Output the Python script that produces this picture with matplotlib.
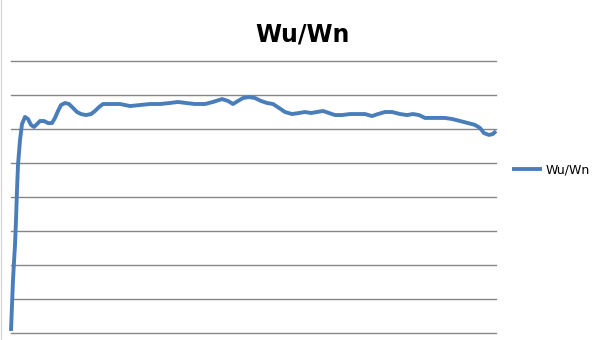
import matplotlib.pyplot as plt
from matplotlib.lines import Line2D

# values (x in arbitrary steps, y on 0..1.6 scale)
x = [0, 1, 2, 3, 4, 5, 6, 7, 9, 11, 14, 17, 20, 23, 26, 29, 33, 37, 41, 44,
     47, 50, 54, 58, 62, 66, 70, 75, 80, 84, 88, 92, 99, 109, 119, 129, 139,
     149, 159, 167, 175, 184, 194, 202, 211, 217, 222, 227, 232, 238, 244,
     250, 256, 262, 268, 274, 281, 288, 294, 300, 306, 312, 318, 324, 331,
     339, 347, 354, 361, 367, 374, 381, 389, 396, 402, 408, 414, 424, 434,
     441, 449, 457, 464, 469, 473, 478, 482, 485]
y = [0.012, 0.165, 0.312, 0.418, 0.518, 0.665, 0.841, 0.988, 1.135, 1.229,
     1.271, 1.259, 1.224, 1.212, 1.229, 1.247, 1.247, 1.235, 1.235, 1.265,
     1.306, 1.341, 1.353, 1.347, 1.324, 1.300, 1.288, 1.282, 1.288, 1.306,
     1.329, 1.347, 1.347, 1.347, 1.335, 1.341, 1.347, 1.347, 1.353, 1.359,
     1.353, 1.347, 1.347, 1.359, 1.376, 1.365, 1.347, 1.365, 1.382, 1.388,
     1.382, 1.365, 1.353, 1.347, 1.324, 1.300, 1.288, 1.294, 1.300, 1.294,
     1.300, 1.306, 1.294, 1.282, 1.282, 1.288, 1.288, 1.288, 1.276, 1.288,
     1.300, 1.300, 1.288, 1.282, 1.288, 1.282, 1.265, 1.265, 1.265, 1.259,
     1.247, 1.235, 1.224, 1.206, 1.176, 1.165, 1.171, 1.188]
series_name = 'Wu/Wn'

fig = plt.figure(figsize=(6.05, 3.4), dpi=100)
ax = fig.add_axes([11/605, 7/340, 485/605, 272/340])

ax.plot(x, y, color='#4A7EBB', linewidth=2.8, label=series_name,
        solid_capstyle='butt', clip_on=False)
ax.set_xlim(0, 485)
ax.set_ylim(0, 1.6)
ax.set_yticks([i * 0.2 for i in range(9)])
ax.yaxis.grid(True, color='#868686', linewidth=1)
for gl in ax.get_ygridlines():
    gl.set_clip_on(False)
ax.set_axisbelow(True)
ax.tick_params(left=False, bottom=False, labelleft=False, labelbottom=False)
for s in ax.spines.values():
    s.set_visible(False)

fig.text(0.5, 0.90, 'Wu/Wn', ha='center', va='center',
         fontsize=17, fontweight='bold')

fig.legend(loc='center left', bbox_to_anchor=(501/605, 1 - 170/340),
           frameon=False, fontsize=9, handlelength=2.4, handletextpad=0.3)

fig.add_artist(Line2D([0.001, 0.001], [0, 1], color='#d9d9d9', linewidth=1))

plt.savefig('out.png', dpi=100)
